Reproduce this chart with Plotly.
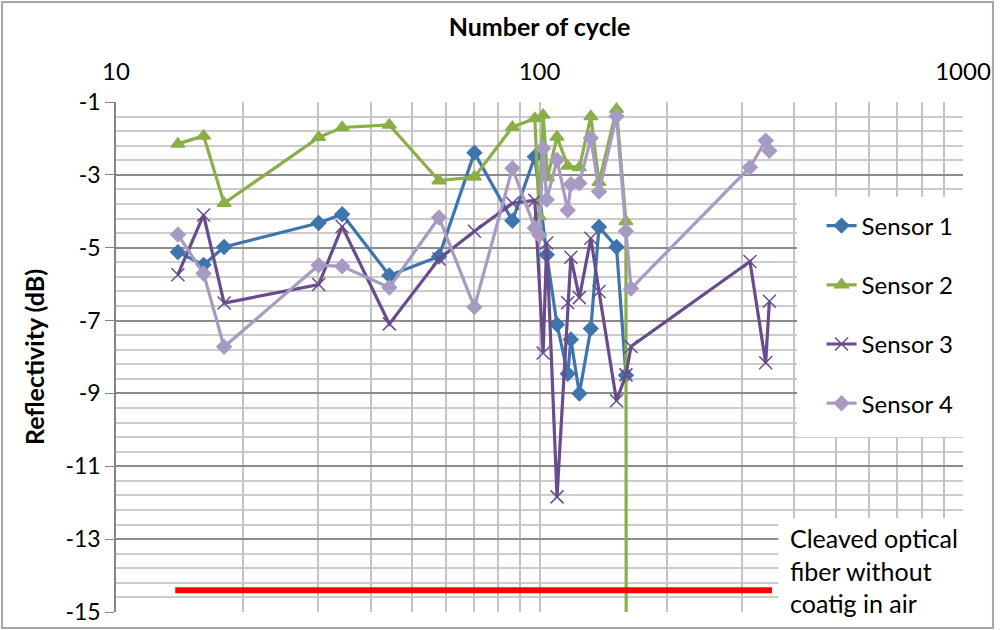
import plotly.graph_objects as go

# ── Data ─────────────────────────────────────────────────────────────────────

s1_cycles = [14.0, 16.1, 18.0, 30.1, 34.2, 44.2, 57.9, 70.2, 86.3, 97.5,
             104, 110, 116.6, 118.6, 124.2, 132.2, 138.2, 152, 160]
s1_refl = [-5.12, -5.47, -4.98, -4.32, -4.08, -5.76, -5.24, -2.39, -4.26, -2.5,
           -5.19, -7.11, -8.46, -7.52, -9.0, -7.22, -4.43, -4.98, -8.5]

s2_cycles = [14.0, 16.1, 18.0, 30.1, 34.2, 44.2, 57.9, 70.2, 86.3, 97.5,
             99.9, 102, 104.5, 110, 116.6, 124.2, 132.2, 138.2, 152, 160, 160.5]
s2_refl = [-2.15, -1.93, -3.78, -1.97, -1.70, -1.63, -3.16, -3.06, -1.69, -1.45,
           -4.14, -1.36, -3.07, -1.96, -2.76, -2.8, -1.4, -3.2, -1.2, -4.28, -30]

s3_cycles = [14.0, 16.1, 18.0, 30.1, 34.2, 44.2, 57.9, 70.2, 86.3, 97.5,
             102, 104, 110, 116.6, 118.6, 124.2, 132.2, 138.2, 152, 160,
             164.5, 314, 342, 349]
s3_refl = [-5.74, -4.10, -6.52, -6.01, -4.42, -7.09, -5.31, -4.55, -3.78, -3.7,
           -7.89, -4.87, -11.84, -6.51, -5.26, -6.37, -4.74, -6.2, -9.2, -8.49,
           -7.71, -5.38, -8.16, -6.47]

s4_cycles = [14.0, 16.1, 18.0, 30.1, 34.2, 44.2, 57.9, 70.2, 86.3, 97.5,
             99.9, 102, 104, 110, 116.6, 118.6, 124.2, 132.2, 138.2, 152, 160,
             164.5, 314, 342, 349]
s4_refl = [-4.64, -5.71, -7.72, -5.48, -5.51, -6.09, -4.17, -6.63, -2.82, -4.46,
           -4.66, -2.27, -3.68, -2.59, -3.97, -3.26, -3.23, -1.99, -3.46, -1.39,
           -4.55, -6.12, -2.79, -2.06, -2.34]

cleaved_cycles = [13.8, 354]
cleaved_refl = [-14.4, -14.4]

x_tickvals = [10, 20, 30, 40, 50, 60, 70, 80, 90,
              100, 200, 300, 400, 500, 600, 700, 800, 900, 1000]
x_ticktext = ["10"] + [""] * 8 + ["100"] + [""] * 8 + ["1000"]
y_tickvals = [-1, -3, -5, -7, -9, -11, -13, -15]
y_ticktext = ["-1", "-3", "-5", "-7", "-9", "-11", "-13", "-15"]

FONT = "Lato, 'Open Sans', sans-serif"

series = [
    ("Sensor 1", s1_cycles, s1_refl, "#3F74AD", "diamond", 11),
    ("Sensor 2", s2_cycles, s2_refl, "#8BAF48", "triangle-up", 12),
    ("Sensor 3", s3_cycles, s3_refl, "#684C8C", "x-thin-open", 13),
    ("Sensor 4", s4_cycles, s4_refl, "#A79AC3", "diamond", 11),
]

fig = go.Figure()

for name, xs, ys, color, symbol, size in series:
    fig.add_trace(
        go.Scatter(
            x=xs,
            y=ys,
            name=name,
            legendgroup=name,
            mode="lines+markers",
            line=dict(color=color, width=3.2),
            marker=dict(symbol=symbol, size=size, color=color,
                        line=dict(color=color, width=1.5)),
        )
    )

fig.add_trace(
    go.Scatter(
        x=cleaved_cycles,
        y=cleaved_refl,
        mode="lines",
        line=dict(color="#FF0000", width=6),
        showlegend=False,
        hoverinfo="skip",
    )
)

# white boxes behind legend and note, and the outer chart border
fig.add_shape(type="rect", xref="paper", yref="paper",
              x0=0.804, x1=1.0, y0=0.343, y1=0.814,
              fillcolor="white", line=dict(width=0), layer="above")
fig.add_shape(type="rect", xref="paper", yref="paper",
              x0=0.782, x1=1.0, y0=0.0, y1=0.184,
              fillcolor="white", line=dict(width=0), layer="above")
fig.add_shape(type="rect", xref="paper", yref="paper",
              x0=-0.1346, x1=1.0354, y0=-0.0314, y1=1.196,
              line=dict(color="#A6A6A6", width=2), layer="above")

fig.add_annotation(
    xref="paper", yref="paper", x=0.793, y=0.082,
    xanchor="left", yanchor="middle", align="left", showarrow=False,
    text="Cleaved optical<br>fiber without<br>coatig in air",
    font=dict(family=FONT, size=25, color="black"),
)

fig.update_layout(
    width=1000,
    height=630,
    margin=dict(l=116, r=37, t=102, b=18),
    paper_bgcolor="white",
    plot_bgcolor="white",
    font=dict(family=FONT, size=24, color="black"),
    legend=dict(
        x=0.833, y=0.801, xanchor="left", yanchor="top",
        bgcolor="rgba(0,0,0,0)",
        font=dict(family=FONT, size=24),
        tracegroupgap=25,
        itemwidth=30,
    ),
    showlegend=True,
)

fig.update_xaxes(
    type="log",
    range=[1, 3],
    side="top",
    automargin=False,
    tickvals=x_tickvals,
    ticktext=x_ticktext,
    ticks="",
    ticklabelstandoff=16,
    showgrid=True,
    gridcolor="#C4C4C4",
    gridwidth=1.5,
    zeroline=False,
    showline=False,
    tickfont=dict(size=24),
    title=dict(text="<b>Number of cycle</b>", font=dict(size=25), standoff=12),
)

fig.update_yaxes(
    range=[-15, -1],
    automargin=False,
    tickvals=y_tickvals,
    ticktext=y_ticktext,
    ticks="outside",
    ticklen=9,
    tickcolor="#868686",
    showline=True,
    linecolor="#868686",
    linewidth=1.5,
    showgrid=True,
    gridcolor="#8C8C8C",
    gridwidth=1.5,
    zeroline=False,
    minor=dict(dtick=0.4, tick0=-15, showgrid=True, gridcolor="#CCCCCC",
               gridwidth=2, ticks=""),
    tickfont=dict(size=23),
    title=dict(text="<b>Reflectivity (dB)</b>", font=dict(size=25), standoff=14),
)

# page body has a default 8px margin; drop it so the chart sits at (0, 0)
fig.write_html(
    "out.html",
    config={"displayModeBar": False},
    post_script="document.body.style.margin='0';",
)
